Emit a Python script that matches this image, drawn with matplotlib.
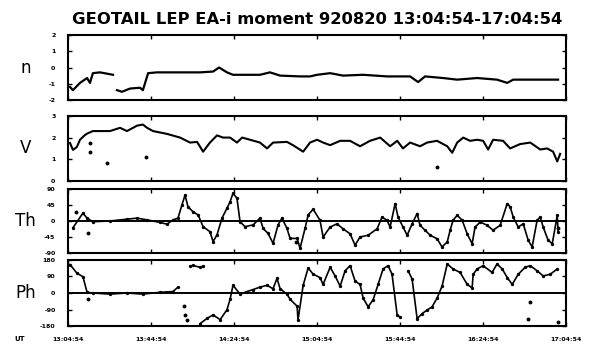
import matplotlib.pyplot as plt
import numpy as np

# time axis: minutes after 13:04:54 UT
tick_minutes = [0, 40, 80, 120, 160, 200, 240]
tick_labels = ["13:04:54", "13:44:54", "14:24:54", "15:04:54", "15:44:54", "16:24:54", "17:04:54"]

# density (log10 n)
n_t = [1.0, 2.4, 5.8, 9.2, 10.6, 12.0, 15.4, 21.7, np.nan, 23.6, 26.0, 29.9, 34.7, 36.1, 38.6, 42.9,
       57.3, 63.6, 69.9, 72.8, 76.6, 79.5, 92.5, 97.3, 102.2, 111.8, 116.6, 120.0, 126.3, 132.5,
       142.2, 153.7, 164.8, 168.7, 172.0, 180.7, 187.5, 197.1, 206.7, 211.6, 214.5, 228.9, 236.1]
n_val = [-1.2, -1.4, -0.95, -0.65, -0.95, -0.35, -0.3, -0.45, np.nan, -1.4, -1.5, -1.3, -1.25, -1.4, -0.35, -0.3,
         -0.3, -0.3, -0.25, 0.0, -0.3, -0.45, -0.45, -0.3, -0.5, -0.55, -0.55, -0.45, -0.35, -0.5,
         -0.45, -0.55, -0.55, -0.9, -0.55, -0.65, -0.75, -0.65, -0.75, -0.95, -0.75, -0.75, -0.75]

# velocity (log10 V)
v_t = [1.0, 2.4, 4.3, 5.8, 8.2, 9.6, 12.0, 20.2, 25.1, 28.4, 33.3, 36.1, 38.1, 41.0, 47.7, 54.0,
       58.8, 62.2, 65.1, 68.4, 71.8, 74.7, 78.1, 81.4, 83.9, 87.7, 92.5, 95.9, 98.8, 105.5, 108.4,
       113.3, 116.6, 120.0, 122.9, 126.3, 131.1, 135.9, 140.7, 145.5, 150.4, 155.2, 158.6, 161.4,
       164.8, 169.6, 173.0, 177.8, 182.7, 185.1, 187.5, 190.4, 193.7, 197.1, 200.0, 202.4, 204.8,
       209.6, 213.0, 217.8, 222.7, 227.5, 230.8, 233.7, 235.7, 237.1]
v_val = [1.75, 1.43, 1.57, 1.9, 2.12, 2.2, 2.3, 2.3, 2.45, 2.3, 2.55, 2.6, 2.45, 2.3, 2.17, 2.0,
         1.77, 1.8, 1.35, 1.77, 2.1, 2.0, 2.0, 1.77, 2.0, 1.9, 1.77, 1.5, 1.77, 1.8, 1.65,
         1.35, 1.77, 1.9, 1.77, 1.65, 1.85, 1.85, 1.6, 1.85, 2.0, 1.6, 1.85, 1.5,
         1.77, 1.6, 1.77, 1.85, 1.6, 1.3, 1.77, 2.0, 1.85, 1.9, 1.85, 1.45, 1.9,
         1.85, 1.5, 1.7, 1.77, 1.45, 1.5, 1.35, 0.9, 1.25]
v_dot_t = [10.6, 10.6, 18.8, 37.6, 177.8]
v_dot_val = [1.77, 1.35, 0.83, 1.1, 0.65]

# flow direction, theta (deg)
th_t = [2.4, 7.2, 9.2, 12.0, 20.2, 28.4, 33.3, 38.1, 44.3, 47.7, 50.6, 53.0, 54.9, 56.4, 57.8, 60.2,
        62.7, 65.1, 68.4, 69.9, 71.8, 74.2, 76.6, 78.1, 79.5, 81.4, 82.9, 85.3, 89.2, 92.5, 94.0,
        96.4, 98.8, 101.2, 103.1, 105.5, 107.0, 110.4, 111.8, 114.2, 115.7, 118.1, 121.4, 122.9,
        126.3, 129.6, 132.5, 135.9, 138.3, 140.7, 144.6, 148.9, 151.3, 153.7, 155.2, 157.6, 159.0,
        161.4, 163.4, 165.8, 168.2, 169.6, 172.0, 174.5, 177.8, 180.2, 182.7, 184.1, 185.5, 187.5,
        189.9, 192.3, 194.7, 196.1, 198.6, 201.9, 204.8, 208.2, 211.6, 213.0, 214.5, 216.9, 219.3,
        221.7, 223.6, 226.0, 227.5, 228.9, 231.3, 233.3, 235.7, 236.1]
th_val = [-19, 22, 8, -2, 0, 5, 8, 3, -4, -9, 3, 8, 45, 73, 40, 26,
          17, -16, -30, -58, -39, 8, 36, 54, 78, 64, -2, -16, -11, 8, -21,
          -35, -63, -11, 8, -21, -49, -49, -77, -21, 17, 33, 2, -45,
          -17, -8, -22, -36, -68, -45, -40, -22, 11, 2, -17, 49, 11,
          -17, -40, -8, 21, -12, -26, -40, -50, -73, -59, -26, 2, 16,
          2, -36, -64, -17, -3, -12, -26, -12, 49, 40, 11, -17, -8,
          -54, -73, 2, 11, -17, -54, -64, 16, -31]
th_dot_t = [9.6, 4.0, 110.0, 236.1]
th_dot_val = [-35, 25, -60, -20]

# flow direction, phi (deg)
ph_t = [1.0, 4.3, 7.2, 9.2, 12.0, 20.2, 28.4, 36.1, 44.3, 50.6, 53.0, np.nan,
        58.8, 60.2, 63.6, 65.1, np.nan,
        63.6, 67.0, 69.9, 73.3, 76.6, 78.1, 79.5, 82.9, 86.3, 89.2, 92.5, 95.9, 98.8, 100.7,
        102.2, 105.5, 107.0, 110.4, 110.8, 113.3, 115.7, 118.1, 121.4, 122.9, 126.3, 128.7,
        131.1, 133.5, 135.9, 138.3, 140.7, 142.2, 144.6, 147.0, 149.4, 151.8, 154.2, 156.1,
        158.6, 160.0, np.nan, 163.9, 165.8, 168.2, 170.6, 173.0, 175.4, 177.8, 180.2, 182.7, 185.5,
        188.9, 192.3, 194.7, 195.2, 197.1, 200.0, 204.3, 206.7, 209.2, 211.6, 214.0, 216.9,
        220.2, 222.7, 226.0, 228.9, 232.3, 235.7]
ph_val = [155, 108, 89, 4, 0, -6, 0, -6, 4, 8, 32, np.nan,
          146, 150, 140, 146, np.nan,
          -167, -138, -119, -145, -91, -34, 42, -6, 8, 19, 32, 42, 23, 80,
          23, -6, -34, -72, -148, 42, 136, 103, 84, 47, 140, 93,
          37, 121, 149, 65, 47, -28, -75, -37, 47, 131, 149, 103,
          -121, -131, np.nan, 121, 75, -140, -112, -93, -75, -28, 37, 158, 131,
          112, 47, 28, 102, 131, 149, 112, 158, 131, 84, 47, 102,
          140, 149, 121, 93, 102, 131]
ph_dot_t = [9.6, 55.9, 56.4, 57.3, 221.7, 222.7, 236.1]
ph_dot_val = [-30, -72, -119, -148, -140, -47, -160]

fig = plt.figure(figsize=(5.91, 3.48), dpi=100)
plt.rcParams['font.family'] = ['DejaVu Sans']

left, width = 0.115, 0.843
boxes = [(0.713, 0.186), (0.480, 0.187), (0.273, 0.184), (0.063, 0.190)]
names = ["n", "V", "Th", "Ph"]
ylims = [(-2, 2), (0, 3), (-90, 90), (-180, 180)]
yticks = [[-2, -1, 0, 1, 2], [0, 1, 2, 3], [-90, -45, 0, 45, 90], [-180, -90, 0, 90, 180]]

axes = []
for (b, h), name, lim, yt in zip(boxes, names, ylims, yticks):
    ax = fig.add_axes([left, b, width, h])
    ax.set_xlim(0, 240)
    ax.set_ylim(*lim)
    ax.set_yticks(yt)
    ax.set_yticklabels([str(v) for v in yt], fontsize=4.5, fontweight="bold")
    ax.set_xticks(tick_minutes)
    ax.set_xticklabels([])
    ax.tick_params(direction="in", length=3, width=1, top=True, right=True, pad=9)
    for s in ax.spines.values():
        s.set_linewidth(1.5)
    fig.text(0.043, b + h / 2, name, fontsize=12, ha="center", va="center")
    axes.append(ax)

ax_n, ax_v, ax_th, ax_ph = axes

ax_n.plot(n_t, n_val, color="black", lw=1.6)

ax_v.plot(v_t, v_val, color="black", lw=1.5)
ax_v.plot(v_dot_t, v_dot_val, "o", color="black", ms=1.8)

ax_th.axhline(0, color="black", lw=1.4)
ax_th.plot(th_t, th_val, color="black", lw=1.2, marker="o", ms=1.4)
ax_th.plot(th_dot_t, th_dot_val, "o", color="black", ms=1.8)

ax_ph.axhline(0, color="black", lw=1.4)
ax_ph.plot(ph_t, ph_val, color="black", lw=1.2, marker="o", ms=1.4)
ax_ph.plot(ph_dot_t, ph_dot_val, "o", color="black", ms=1.8)

ax_ph.set_xticklabels(tick_labels, fontsize=4.5, fontweight="bold")
ax_ph.tick_params(axis="x", pad=8)
fig.text(0.033, 0.027, "UT", fontsize=5, fontweight="bold", ha="center", va="center")

fig.text(0.537, 0.945, "GEOTAIL LEP EA-i moment 920820 13:04:54-17:04:54",
         fontsize=11.8, fontweight="bold", ha="center", va="center")

fig.savefig("out.png", dpi=100)
